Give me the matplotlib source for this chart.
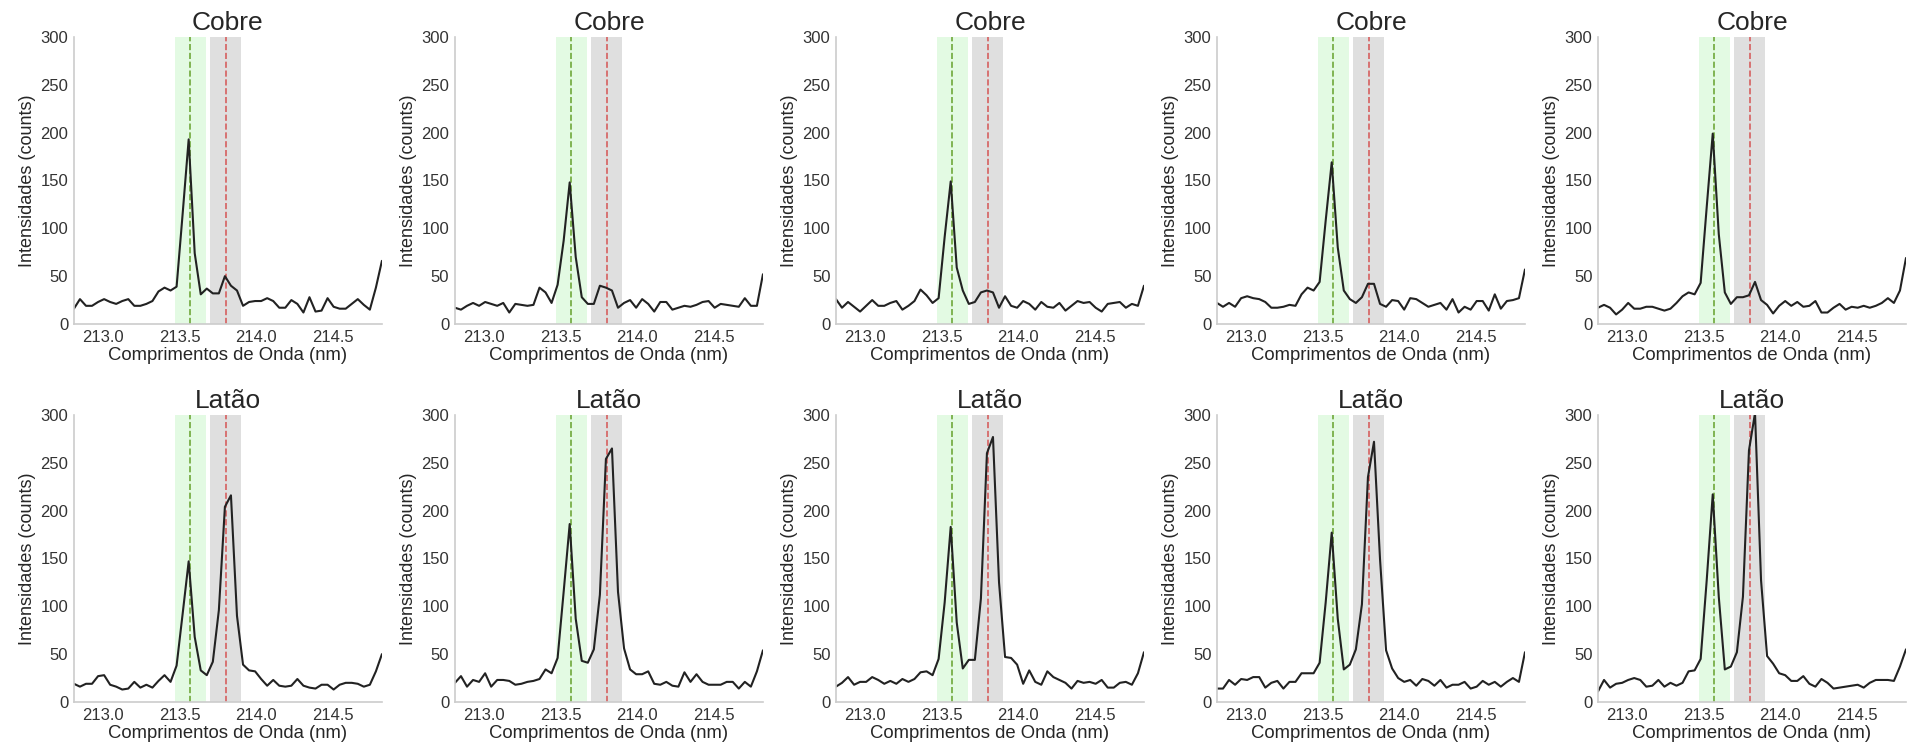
import numpy as np
import matplotlib
matplotlib.use("Agg")
import matplotlib.pyplot as plt
import seaborn as sns

sns.set_style("white")
plt.rcParams['font.family'] = ['Liberation Sans', 'DejaVu Sans']

# wavelength grid of the spectrometer (nm)
wl = np.linspace(212.81, 214.82, 52)

# Cu line window and Zn line window
cu_line = 213.57
zn_line = 213.80
half_window = 0.10

cobre1 = [16,26,19,19,23,26,23,21,24,26, 19,19,21,24,34,38,35,39,115,193,
          74,31,37,32,32,50,40,35,19,23, 24,24,27,24,17,17,25,21,12,28,
          13,14,27,18,16,16,21,26,20,15,38,66]
cobre2 = [17,15,19,22,19,23,21,19,22,12, 21,20,19,20,38,33,22,41,87,148,
          70,28,21,21,40,38,35,17,22,25, 17,26,21,13,23,23,15,17,19,18,
          20,23,24,17,21,20,19,18,27,19,19,52]
cobre3 = [26,17,23,18,13,19,25,19,19,22, 24,15,19,24,36,30,22,27,91,149,
          59,35,21,23,33,35,33,17,29,19, 17,24,21,15,23,18,17,22,14,19,
          24,22,23,17,13,21,22,23,17,21,19,40]
cobre4 = [22,18,22,18,27,29,27,26,23,17, 17,18,20,19,31,38,35,44,108,169,
          80,35,26,22,28,42,42,21,18,25, 24,15,27,26,22,18,20,22,15,26,
          12,18,15,24,24,14,31,16,24,25,27,57]
cobre5 = [17,20,17,10,15,22,16,16,18,18, 16,14,16,22,29,33,31,43,122,199,
          94,33,21,28,28,30,44,25,20,11, 19,24,19,23,18,19,24,12,12,17,
          21,15,18,17,19,17,19,22,27,22,35,69]

latao1 = [19,16,19,19,27,28,18,16,13,14, 21,15,18,15,22,28,21,38,92,147,
          68,33,28,42,96,204,216,90,39,33, 32,24,17,23,17,16,17,24,17,15,
          14,18,18,13,18,20,20,19,16,18,32,50]
latao2 = [20,27,16,23,21,30,16,23,23,22, 18,19,21,22,24,34,30,46,115,186,
          87,43,41,55,112,254,265,115,56,34, 29,29,32,19,18,21,17,16,31,21,
          29,21,18,18,18,21,21,14,21,16,32,54]
latao3 = [16,20,26,18,21,21,26,23,19,22, 19,24,21,24,31,32,28,45,104,183,
          83,35,44,44,108,260,277,125,47,46, 39,19,33,21,18,32,26,23,20,14,
          22,20,21,19,23,15,15,20,21,18,30,52]
latao4 = [14,14,23,18,24,23,26,26,15,20, 22,14,21,21,30,30,30,41,104,177,
          87,34,39,55,102,235,272,149,54,35, 25,21,23,17,24,22,17,23,15,18,
          18,21,14,16,22,18,21,16,21,25,21,52]
latao5 = [11,23,15,19,20,23,25,23,16,17, 23,16,20,17,20,32,33,45,127,217,
          110,34,37,52,110,263,302,127,48,40, 30,28,22,22,27,19,16,24,20,14,
          15,16,17,18,15,20,23,23,23,22,37,55]

cobre = [cobre1, cobre2, cobre3, cobre4, cobre5]
latao = [latao1, latao2, latao3, latao4, latao5]
titles = ["Cobre", "Latão"]

fig, axes = plt.subplots(2, 5, figsize=(19.15, 7.49), dpi=100)
fig.subplots_adjust(left=0.0386, right=0.9953, top=0.9506, bottom=0.0628,
                    wspace=0.237, hspace=0.317)

for row, samples in enumerate([cobre, latao]):
    for col, y in enumerate(samples):
        ax = axes[row, col]
        ax.axvspan(cu_line - half_window, cu_line + half_window,
                   color="lightgreen", alpha=0.25, lw=0)
        ax.axvspan(zn_line - half_window, zn_line + half_window,
                   color="gray", alpha=0.25, lw=0)
        ax.axvline(cu_line, color="#6fa83a", ls="--", lw=1.2)
        ax.axvline(zn_line, color="#d65f5f", ls="--", lw=1.2)
        ax.plot(wl, y, color="#222222", lw=1.5)
        ax.set_xlim(wl[0], wl[-1])
        ax.set_ylim(0, 300)
        ax.set_xticks([213.0, 213.5, 214.0, 214.5])
        ax.set_yticks(range(0, 301, 50))
        ax.tick_params(labelsize=12, colors="#333333", length=0, pad=4)
        ax.set_xlabel("Comprimentos de Onda (nm)", fontsize=13.3, color="#262626", labelpad=2)
        ax.set_ylabel("Intensidades (counts)", fontsize=13, color="#262626", labelpad=3)
        ax.set_title(titles[row], fontsize=19, color="#262626", pad=5)
        for s in ["left", "bottom"]:
            ax.spines[s].set_color("#cccccc")
            ax.spines[s].set_linewidth(1.2)
        sns.despine(ax=ax)

fig.savefig("out.png", dpi=100)
